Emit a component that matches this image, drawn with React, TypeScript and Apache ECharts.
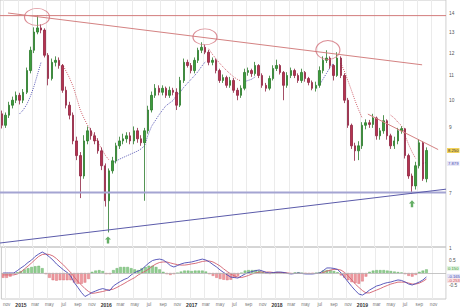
import React, { useEffect, useRef } from 'react';
import * as echarts from 'echarts';

// ---- calendar (semi-monthly slots, second half Oct 2014 .. Dec 2019) ----
const monthNames = ['jan', 'feb', 'mar', 'apr', 'may', 'jun', 'jul', 'aug', 'sep', 'oct', 'nov', 'dec'];
const firstSlot = { year: 2014, month: 10, half: 1 };
const slotCount = 125;

// ---- price candles ----
const opens = [
  9.50, 9.09, 9.45, 9.82, 10.01, 10.20, 10.01, 10.32, 11.22, 12.13,
  13.01, 13.22, 13.11, 11.90, 10.88, 11.58, 11.67, 11.44, 10.40, 9.82,
  9.45, 8.56, 8.09, 7.48, 8.56, 8.90, 8.73, 8.56, 8.24, 7.78,
  6.80, 7.63, 7.93, 8.40, 8.56, 8.63, 8.73, 8.56, 8.90, 8.63,
  8.50, 8.90, 9.64, 10.20, 10.48, 10.32, 10.48, 10.20, 10.40, 10.32,
  9.82, 10.80, 11.58, 11.44, 11.22, 11.67, 12.13, 12.27, 12.04, 11.58,
  11.67, 11.22, 10.80, 10.92, 10.60, 10.80, 10.40, 10.20, 10.48, 11.14,
  11.22, 11.09, 11.44, 11.01, 10.60, 10.48, 10.88, 11.31, 11.44, 11.14,
  10.60, 11.01, 11.22, 11.01, 10.80, 11.14, 10.88, 10.72, 10.48, 10.60,
  11.22, 11.67, 11.77, 11.44, 11.01, 11.77, 11.01, 10.01, 9.09, 8.40,
  8.24, 8.40, 9.09, 9.18, 9.12, 9.35, 8.73, 8.90, 9.25, 8.73,
  8.40, 8.56, 8.90, 8.97, 8.09, 7.48, 7.20, 7.78, 8.50, 7.40,
];
const closes = [
  9.09, 9.45, 9.82, 10.01, 10.20, 10.01, 10.32, 11.22, 12.13, 13.01,
  13.22, 13.11, 11.90, 10.88, 11.58, 11.67, 11.44, 10.40, 9.82, 9.45,
  8.56, 8.09, 7.48, 8.56, 8.90, 8.73, 8.56, 8.24, 7.78, 6.80,
  7.63, 7.93, 8.40, 8.56, 8.63, 8.73, 8.56, 8.90, 8.63, 8.50,
  8.90, 9.64, 10.20, 10.48, 10.32, 10.48, 10.20, 10.40, 10.32, 9.82,
  10.80, 11.58, 11.44, 11.22, 11.67, 12.13, 12.27, 12.04, 11.58, 11.67,
  11.22, 10.80, 10.92, 10.60, 10.80, 10.40, 10.20, 10.48, 11.14, 11.22,
  11.09, 11.44, 11.01, 10.60, 10.48, 10.88, 11.31, 11.44, 11.14, 10.60,
  11.01, 11.22, 11.01, 10.80, 11.14, 10.88, 10.72, 10.48, 10.60, 11.22,
  11.67, 11.77, 11.44, 11.01, 11.77, 11.01, 10.01, 9.09, 8.40, 8.24,
  8.40, 9.09, 9.18, 9.12, 9.35, 8.73, 8.90, 9.25, 8.73, 8.40,
  8.56, 8.90, 8.97, 8.09, 7.48, 7.20, 7.78, 8.50, 7.40, 8.25,
];
const lows = [
  8.98, 9.00, 9.35, 9.70, 9.90, 9.85, 9.90, 10.25, 11.10, 12.00,
  12.90, 12.95, 11.80, 10.60, 10.80, 11.40, 11.30, 10.30, 9.70, 9.30,
  8.45, 7.95, 6.87, 7.40, 8.45, 8.60, 8.45, 8.15, 7.65, 6.65,
  6.02, 7.55, 7.85, 8.30, 8.45, 8.50, 8.45, 8.45, 8.50, 8.40,
  6.80, 8.80, 9.55, 10.10, 10.20, 10.20, 10.10, 10.10, 10.20, 9.64,
  9.75, 10.70, 11.35, 11.10, 11.10, 11.55, 12.00, 11.95, 11.45, 11.45,
  11.10, 10.70, 10.70, 10.50, 10.50, 10.30, 10.01, 10.10, 10.40, 11.00,
  10.95, 11.00, 10.90, 10.50, 10.35, 10.40, 10.80, 11.20, 11.05, 10.01,
  10.50, 10.90, 10.90, 10.70, 10.70, 10.75, 10.60, 10.40, 10.35, 10.50,
  11.10, 11.55, 11.30, 10.80, 10.95, 10.90, 9.90, 9.00, 8.30, 7.93,
  7.95, 8.30, 8.95, 9.00, 9.00, 8.60, 8.60, 8.80, 8.60, 8.30,
  8.30, 8.45, 8.80, 8.00, 7.40, 6.98, 7.10, 7.70, 7.34, 7.30,
];
const highs = [
  9.62, 9.55, 9.95, 10.15, 10.35, 10.30, 10.45, 11.35, 12.30, 13.25,
  13.89, 13.40, 13.20, 12.00, 11.75, 11.85, 11.80, 11.50, 10.55, 9.95,
  9.55, 8.70, 8.20, 8.75, 9.05, 9.00, 8.85, 8.65, 8.35, 7.85,
  7.70, 8.05, 8.50, 8.70, 8.80, 8.85, 8.85, 9.05, 9.00, 8.75,
  9.00, 9.80, 10.35, 10.65, 10.60, 10.60, 10.55, 10.55, 10.50, 10.48,
  10.95, 11.75, 11.70, 11.55, 11.80, 12.25, 12.51, 12.40, 12.15, 11.80,
  11.75, 11.30, 11.05, 11.00, 10.95, 10.90, 10.50, 10.60, 11.30, 11.35,
  11.30, 11.60, 11.50, 11.10, 10.70, 11.00, 11.45, 11.70, 11.50, 11.20,
  11.15, 11.35, 11.30, 11.10, 11.30, 11.20, 10.95, 10.80, 10.75, 11.40,
  11.85, 12.13, 11.85, 11.50, 12.04, 11.85, 11.10, 10.10, 9.15, 8.50,
  8.55, 9.20, 9.30, 9.28, 9.50, 9.40, 9.00, 9.45, 9.30, 8.80,
  8.70, 9.00, 9.05, 9.00, 8.15, 7.55, 7.90, 8.62, 8.55, 8.35,
];

// ---- parabolic SAR dots, read as segments [first slot, values] ----
const sarAboveSegments: [number, number[]][] = [
  [17, [11.5, 11.2, 10.9, 10.55, 10.1, 9.64, 9.35, 9.1, 8.9, 8.7, 8.5, 8.3, 8.1, 7.96]],
  [58, [12.2, 11.95, 11.75, 11.55, 11.38, 11.22, 11.08, 10.95, 10.85, 10.78]],
  [95, [11.55, 11.2, 10.8, 10.4, 10.0, 9.65, 9.35]],
  [109, [9.45, 9.35, 9.2, 9.08, 8.75, 8.45, 8.2, 8.0]],
];
const sarBelowSegments: [number, number[]][] = [
  [5, [9.5, 9.64, 9.85, 10.15, 10.55, 11.05, 11.58]],
  [31, [7.87, 7.92, 7.98, 8.03, 8.08, 8.13, 8.18, 8.23, 8.3, 8.4, 8.76, 9.06, 9.25, 9.45, 9.63, 9.8, 9.9, 10.0, 10.2, 10.32, 10.52, 10.68, 10.84, 11.0, 11.18, 11.4, 11.6]],
  [68, [10.75, 10.8, 10.85, 10.95]],
  [89, [10.6, 10.85, 11.1, 11.35, 11.55]],
  [118, [7.85, 7.88]],
];

// ---- MACD panel ----
const macdLine = [
  0, 0, 0, 0, 0.1, 0.21, 0.31, 0.44, 0.54, 0.69,
  0.79, 0.875, 0.79, 0.67, 0.54, 0.375, 0.25, 0.125, 0.02, -0.125,
  -0.4, -0.6, -0.81, -0.98, -0.9, -0.81, -0.75, -0.69, -0.65, -0.69,
  -0.73, -0.54, -0.44, -0.35, -0.27, -0.21, -0.08, 0.02, 0.08, 0.15,
  0.29, 0.42, 0.52, 0.56, 0.58, 0.54, 0.44, 0.31, 0.25, 0.31,
  0.375, 0.42, 0.44, 0.46, 0.5, 0.54, 0.58, 0.54, 0.46, 0.35,
  0.25, 0.125, 0.02, -0.08, -0.17, -0.19, -0.21, -0.125, -0.04, 0.02,
  0.06, 0.1, 0.125, 0.08, 0.02, 0, 0.02, 0.04, 0.04, 0.02,
  -0.02, -0.04, -0.02, 0, -0.02, -0.04, -0.04, -0.04, -0.02, 0,
  0.1, 0.21, 0.21, 0.19, 0.15, 0, -0.19, -0.375, -0.56, -0.73,
  -0.875, -0.92, -0.83, -0.71, -0.625, -0.54, -0.5, -0.44, -0.4, -0.375,
  -0.33, -0.29, -0.31, -0.375, -0.46, -0.5, -0.44, -0.375, -0.29, -0.165,
];
const signalLine = [
  -0.08, -0.08, -0.08, -0.08, -0.04, 0.04, 0.17, 0.29, 0.42, 0.56,
  0.69, 0.77, 0.79, 0.77, 0.71, 0.6, 0.46, 0.33, 0.17, 0.02,
  -0.17, -0.35, -0.5, -0.65, -0.77, -0.85, -0.83, -0.8, -0.77, -0.73,
  -0.7, -0.67, -0.6, -0.52, -0.44, -0.35, -0.27, -0.19, -0.08, 0.0,
  0.08, 0.17, 0.29, 0.38, 0.44, 0.46, 0.46, 0.42, 0.38, 0.35,
  0.33, 0.33, 0.35, 0.38, 0.4, 0.44, 0.48, 0.5, 0.5, 0.46,
  0.38, 0.29, 0.17, 0.06, -0.04, -0.12, -0.17, -0.19, -0.15, -0.1,
  -0.04, 0.0, 0.04, 0.04, 0.04, 0.04, 0.02, 0.02, 0.02, 0.02,
  0.0, -0.02, -0.02, -0.02, -0.02, -0.02, -0.02, -0.02, -0.02, -0.02,
  0.02, 0.08, 0.12, 0.15, 0.15, 0.12, 0.02, -0.12, -0.29, -0.46,
  -0.6, -0.73, -0.83, -0.83, -0.77, -0.71, -0.65, -0.58, -0.52, -0.46,
  -0.42, -0.38, -0.38, -0.38, -0.42, -0.46, -0.46, -0.42, -0.35, -0.253,
];
const histogram = [
  -0.2, -0.2, -0.15, -0.05, 0.03, 0.08, 0.15, 0.2, 0.25, 0.28,
  0.3, 0.2, -0.05, -0.2, -0.3, -0.32, -0.3, -0.3, -0.3, -0.3,
  -0.4, -0.45, -0.45, -0.4, -0.25, 0.05, 0.1, 0.12, 0.08, -0.05,
  -0.05, 0.12, 0.2, 0.25, 0.25, 0.25, 0.2, 0.15, 0.12, 0.2,
  0.25, 0.3, 0.3, 0.25, 0.15, 0.05, -0.05, -0.08, -0.05, 0.0,
  0.06, 0.1, 0.1, 0.08, 0.1, 0.1, 0.1, 0.06, -0.05, -0.12,
  -0.2, -0.25, -0.28, -0.3, -0.28, -0.2, -0.12, 0.0, 0.1, 0.12,
  0.12, 0.12, 0.1, 0.05, -0.03, -0.04, 0.0, 0.04, 0.03, -0.02,
  -0.03, -0.03, 0.02, 0.03, 0.0, -0.02, -0.03, -0.02, 0.0, 0.03,
  0.1, 0.12, 0.12, 0.08, 0.03, -0.1, -0.2, -0.3, -0.38, -0.42,
  -0.45, -0.35, -0.15, 0.05, 0.1, 0.12, 0.12, 0.12, 0.1, 0.08,
  0.06, 0.04, 0.02, -0.05, -0.12, -0.15, -0.08, 0.05, 0.1, 0.15,
];

// ---- axis tick labels ----
const priceTicks = [7, 9, 10, 11, 12, 13, 14];
const macdTicks = [1, 0.5, -0.5];
const lastPrice = { value: 8.25, text: '8.250' };
const lastSar = { value: 7.879, text: '7.879' };
const macdValueLabels = [
  { value: 0.15, text: '0.150', color: '#3a9a3a', bg: '#dff2df', dy: -1 },
  { value: -0.165, text: '-0.165', color: '#4a4ab0', bg: '#e4e4f6', dy: -1 },
  { value: -0.253, text: '-0.253', color: '#d0505e', bg: '#f8e0e3', dy: 1.5 },
];

// ---- drawn annotations (in slot / price units) ----
const resistanceLevel = 13.86;
const supportLevel = 7.02;
const longDownTrend = [[1.74, 14.0], [117.8, 11.47]];
const shortDownTrend = [[102.6, 9.49], [122.3, 8.28]];
const risingSupport = [[-0.5, 5.78], [124.5, 7.11]];
const peakCircles = [
  { x: 9.87, y: 13.79, w: 25, h: 17 },
  { x: 56.95, y: 12.77, w: 24, h: 16 },
  { x: 91.4, y: 12.14, w: 24, h: 19 },
];
const buyArrows = [[29.77, 5.85], [114.97, 6.72]];

const FONT = "'Liberation Sans', Arial, sans-serif";
const CLEAR = 'rgba(0,0,0,0)';

function buildCategories(): string[] {
  const out: string[] = [];
  let y = firstSlot.year;
  let m = firstSlot.month;
  let h = firstSlot.half;
  for (let k = 0; k < slotCount; k++) {
    out.push(`${y}-${String(m).padStart(2, '0')}-${h ? '16' : '01'}`);
    h++;
    if (h > 1) {
      h = 0;
      m++;
      if (m > 12) {
        m = 1;
        y++;
      }
    }
  }
  return out;
}

function expandSegments(segs: [number, number[]][], n: number): (number | null)[] {
  const arr: (number | null)[] = new Array(n).fill(null);
  segs.forEach(([start, vals]) => vals.forEach((v, j) => (arr[start + j] = v)));
  return arr;
}

export default function App() {
  const ref = useRef<HTMLDivElement>(null);

  useEffect(() => {
    if (!ref.current) return;
    const chart = echarts.init(ref.current, undefined, { renderer: 'svg' });
    const categories = buildCategories();
    const isLabelSlot = (_i: number, v: string) =>
      v.endsWith('-01') && Number(v.slice(5, 7)) % 2 === 1;
    const candleData = closes.map((c, i) => [opens[i], c, lows[i], highs[i]]);
    const sarAbove = expandSegments(sarAboveSegments, closes.length);
    const sarBelow = expandSegments(sarBelowSegments, closes.length);

    const priceLabel = {
      show: true,
      position: 'end',
      distance: 3,
      formatter: '{b}',
      fontSize: 4.8,
      color: '#555',
      fontFamily: FONT,
    };
    const hiddenLine = { color: CLEAR, width: 1, type: 'solid' };

    const option: any = {
      animation: false,
      backgroundColor: '#ffffff',
      textStyle: { fontFamily: FONT },
      grid: [
        { left: 0, top: 0, width: 446, height: 247, show: true, borderColor: '#c8c8c8', borderWidth: 1 },
        { left: 0, top: 247, width: 446, height: 52, show: true, borderColor: '#c8c8c8', borderWidth: 1 },
      ],
      xAxis: [
        {
          type: 'category', gridIndex: 0, data: categories, boundaryGap: true,
          axisLine: { show: false }, axisTick: { show: false }, axisLabel: { show: false },
          splitLine: { show: true, interval: isLabelSlot, lineStyle: { color: '#ebebeb', width: 1 } },
        },
        {
          type: 'category', gridIndex: 1, data: categories, boundaryGap: true,
          axisLine: { show: false }, axisTick: { show: false },
          splitLine: { show: true, interval: isLabelSlot, lineStyle: { color: '#ebebeb', width: 1 } },
          axisLabel: {
            show: true, interval: isLabelSlot, margin: 3,
            formatter: (v: string) => {
              const mo = Number(v.slice(5, 7));
              return mo === 1 ? `{y|${v.slice(0, 4)}}` : `{m|${monthNames[mo - 1]}}`;
            },
            rich: {
              y: { fontSize: 5, fontWeight: 'bold', color: '#333', fontFamily: FONT },
              m: { fontSize: 4.6, color: '#777', fontFamily: FONT },
            },
          },
        },
        { type: 'value', gridIndex: 0, min: -0.5, max: slotCount - 0.5, show: false },
      ],
      yAxis: [
        {
          type: 'log', logBase: 10, gridIndex: 0, min: 5.692, max: 14.718, position: 'right',
          axisLine: { show: false }, axisTick: { show: false }, axisLabel: { show: false }, splitLine: { show: false },
        },
        {
          type: 'value', gridIndex: 1, min: -1.0833, max: 1.0833, position: 'right',
          axisLine: { show: false }, axisTick: { show: false }, axisLabel: { show: false }, splitLine: { show: false },
        },
      ],
      series: [
        {
          name: 'sarAbove', type: 'line', xAxisIndex: 0, yAxisIndex: 0, data: sarAbove,
          symbol: 'none', connectNulls: false, silent: true, z: 1,
          lineStyle: { color: '#d0606c', width: 1, type: [1, 1.2] },
          markLine: {
            silent: true, symbol: ['none', 'none'],
            lineStyle: hiddenLine,
            label: priceLabel,
            data: priceTicks.map((t) => ({ yAxis: t, name: String(t) })),
          },
        },
        {
          name: 'sarBelow', type: 'line', xAxisIndex: 0, yAxisIndex: 0, data: sarBelow,
          symbol: 'none', connectNulls: false, silent: true, z: 1,
          lineStyle: { color: '#5555b5', width: 1, type: [1, 1.2] },
          markLine: {
            silent: true, symbol: ['none', 'none'],
            lineStyle: hiddenLine,
            data: [
              {
                yAxis: lastPrice.value, name: lastPrice.text,
                label: { ...priceLabel, distance: 1, fontSize: 4.2, color: '#333', backgroundColor: '#f3d45c', padding: [1, 1, 0, 1] },
              },
              {
                yAxis: lastSar.value, name: lastSar.text,
                label: { ...priceLabel, distance: 1, fontSize: 4.2, color: '#4a4ab0', backgroundColor: '#e8e8f8', padding: [1, 1, 0, 1], offset: [0, 1] },
              },
            ],
          },
        },
        {
          name: 'price', type: 'candlestick', xAxisIndex: 0, yAxisIndex: 0, data: candleData,
          barWidth: '55%', silent: true, z: 2,
          itemStyle: { color: '#3d9c3d', color0: '#b5344f', borderColor: '#2a7a2a', borderColor0: '#8e2240', borderWidth: 0.8 },
        },
        {
          type: 'line', xAxisIndex: 2, yAxisIndex: 0, symbol: 'none', silent: true, z: 3,
          data: [[-0.5, resistanceLevel], [slotCount - 0.5, resistanceLevel]],
          lineStyle: { color: '#d27c7c', width: 1 },
        },
        {
          type: 'line', xAxisIndex: 2, yAxisIndex: 0, symbol: 'none', silent: true, z: 3,
          data: longDownTrend, lineStyle: { color: '#d48282', width: 1 },
        },
        {
          type: 'line', xAxisIndex: 2, yAxisIndex: 0, symbol: 'none', silent: true, z: 3,
          data: shortDownTrend, lineStyle: { color: '#d48282', width: 1 },
        },
        {
          type: 'line', xAxisIndex: 2, yAxisIndex: 0, symbol: 'none', silent: true, z: 3,
          data: [[-0.5, supportLevel], [slotCount - 0.5, supportLevel]],
          lineStyle: { color: '#a4a4d2', width: 2 },
        },
        {
          type: 'line', xAxisIndex: 2, yAxisIndex: 0, symbol: 'none', silent: true, z: 3,
          data: risingSupport, lineStyle: { color: '#5b5baa', width: 1 },
        },
        {
          type: 'scatter', xAxisIndex: 2, yAxisIndex: 0, silent: true, z: 4,
          symbol: 'path://M0,50 A50,50 0 1,1 100,50 A50,50 0 1,1 0,50 Z',
          data: peakCircles.map((c) => ({ value: [c.x, c.y], symbolSize: [c.w, c.h] })),
          itemStyle: { color: CLEAR, borderColor: '#d2707a', borderWidth: 1 },
        },
        {
          type: 'scatter', xAxisIndex: 2, yAxisIndex: 0, silent: true, z: 4,
          symbol: 'path://M5,0 L10,5 L7,5 L7,11 L3,11 L3,5 L0,5 Z', symbolSize: [6, 7],
          data: buyArrows, itemStyle: { color: '#3e9a3e' },
        },
        {
          name: 'hist', type: 'bar', xAxisIndex: 1, yAxisIndex: 1, silent: true, barWidth: '75%',
          data: histogram.map((v) => ({
            value: v,
            itemStyle: v >= 0
              ? { color: 'rgba(110,190,110,0.75)', borderColor: '#5aa85a', borderWidth: 0.4 }
              : { color: 'rgba(232,120,128,0.75)', borderColor: '#d66470', borderWidth: 0.4 },
          })),
          markLine: {
            silent: true, symbol: ['none', 'none'],
            lineStyle: { color: '#b8b8b8', width: 0.8, type: 'solid' },
            label: { show: false },
            data: [{ yAxis: 0 }],
          },
        },
        {
          name: 'signal', type: 'line', xAxisIndex: 1, yAxisIndex: 1, data: signalLine,
          symbol: 'none', silent: true, lineStyle: { color: '#d2606e', width: 0.9 },
          markLine: {
            silent: true, symbol: ['none', 'none'], lineStyle: hiddenLine,
            label: { ...priceLabel },
            data: macdTicks.map((t) => ({ yAxis: t, name: String(t) })),
          },
        },
        {
          name: 'macd', type: 'line', xAxisIndex: 1, yAxisIndex: 1, data: macdLine,
          symbol: 'none', silent: true, lineStyle: { color: '#4a4ab4', width: 0.9 },
          markLine: {
            silent: true, symbol: ['none', 'none'], lineStyle: hiddenLine,
            data: macdValueLabels.map((m) => ({
              yAxis: m.value, name: m.text,
              label: { ...priceLabel, distance: 1, fontSize: 4.2, color: m.color, backgroundColor: m.bg, padding: [0.5, 1, 0, 1], offset: [0, m.dy] },
            })),
          },
        },
      ],
    };
    chart.setOption(option);
    return () => chart.dispose();
  }, []);

  return <div ref={ref} style={{ position: 'absolute', left: 0, top: 0, width: 460, height: 308 }} />;
}
